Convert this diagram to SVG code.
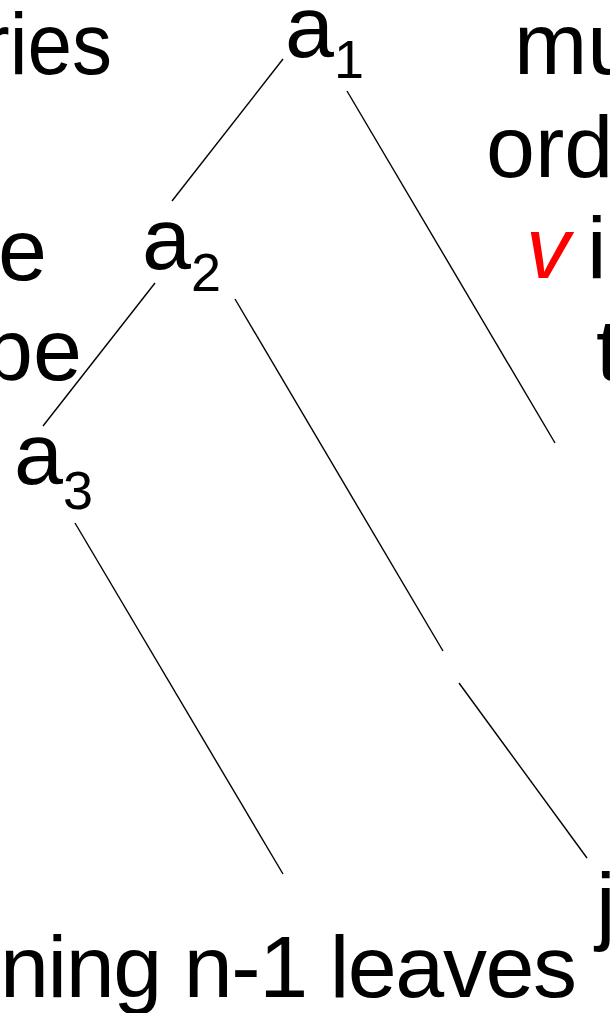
<svg xmlns="http://www.w3.org/2000/svg" width="610" height="1013" viewBox="0 0 610 1013">
<style>
.t{font-family:"Liberation Sans",Arial,sans-serif;font-size:88px;fill:#000}
.s{font-size:54px}
.e{stroke:#000;stroke-width:1.4;fill:none}
</style>
<rect width="610" height="1013" fill="#fff"/>
<g id="connectors">
<line class="e" x1="283" y1="59" x2="172" y2="201"/>
<line class="e" x1="347" y1="91" x2="555" y2="443"/>
<line class="e" x1="155" y1="283" x2="43" y2="426"/>
<line class="e" x1="235" y1="299" x2="443" y2="651"/>
<line class="e" x1="459" y1="683" x2="587" y2="858"/>
<line class="e" x1="75" y1="523" x2="283" y2="874"/>
</g>
<g id="a1"><text class="t" x="285" y="57">a<tspan class="s" dy="21">1</tspan></text></g>
<g id="a2"><text class="t" x="142" y="269">a<tspan class="s" dy="22">2</tspan></text></g>
<g id="a3"><text class="t" x="14" y="484">a<tspan class="s" dy="25">3</tspan></text></g>
<g id="j"><text class="t" x="596" y="934">j</text></g>
<g id="labels">
<text class="t" x="-17" y="74" textLength="129" lengthAdjust="spacingAndGlyphs">ries</text>
<text class="t" x="47" y="280" text-anchor="end">e</text>
<text class="t" x="82" y="380" text-anchor="end">pe</text>
<text class="t" x="514" y="74">mu</text>
<text class="t" x="486" y="177">ord</text>
<text class="t" x="526" y="278" font-style="italic" style="fill:#f00">v</text>
<text class="t" x="587" y="278">i</text>
<text class="t" x="596" y="380">t</text>
<text class="t" x="0" y="997" textLength="577" lengthAdjust="spacing">ning n-1 leaves</text>
</g>
</svg>
